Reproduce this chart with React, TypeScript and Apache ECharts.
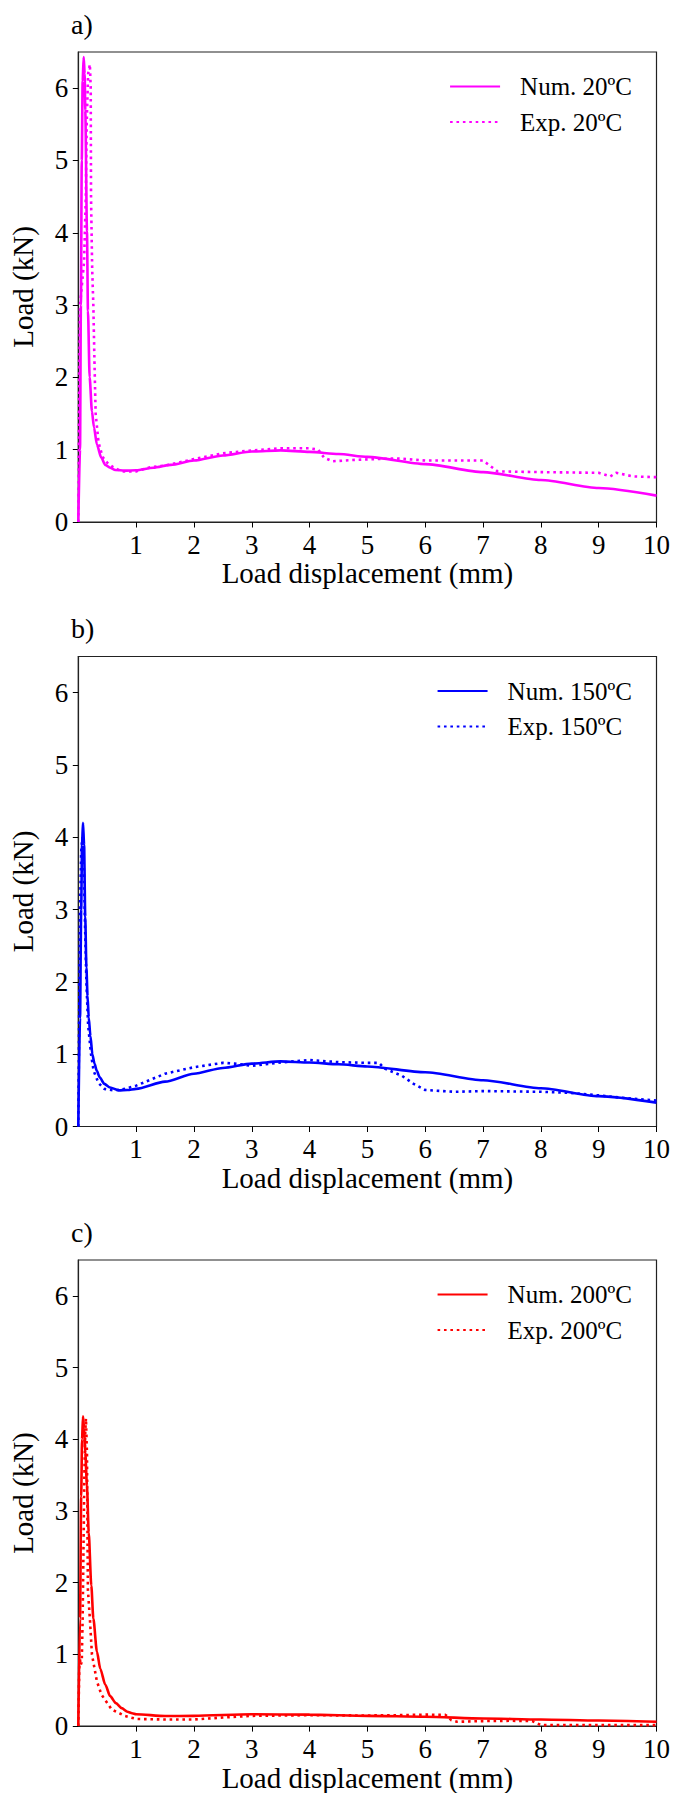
import React, { useEffect, useRef } from 'react';
import * as echarts from 'echarts';

// ---- tick values ----
const xTicks = [1, 2, 3, 4, 5, 6, 7, 8, 9, 10];
const yTicks = [0, 1, 2, 3, 4, 5, 6];

// ---- panel texts ----
const panelTitles = ['a)', 'b)', 'c)'];
const numNames = ['Num. 20ºC', 'Num. 150ºC', 'Num. 200ºC'];
const expNames = ['Exp. 20ºC', 'Exp. 150ºC', 'Exp. 200ºC'];
const xName = 'Load displacement (mm)';
const yName = 'Load (kN)';

// ---- a) 20ºC ----
const numA_x = [0, 0.03, 0.045, 0.06, 0.075, 0.093, 0.11, 0.121, 0.15, 0.167, 0.196, 0.236, 0.271, 0.322, 0.397, 0.466, 0.55, 0.64, 0.8, 1.0, 1.3, 1.6, 2.0, 2.5, 3.0, 3.5, 4.0, 4.5, 5.0, 6.0, 7.0, 8.0, 9.0, 10.0];
const numA_y = [0, 1.0, 3.0, 5.0, 6.1, 6.43, 6.2, 5.69, 4.02, 2.92, 2.0, 1.53, 1.31, 1.07, 0.89, 0.79, 0.75, 0.72, 0.71, 0.715, 0.75, 0.79, 0.85, 0.92, 0.975, 0.99, 0.97, 0.94, 0.9, 0.8, 0.69, 0.58, 0.47, 0.365];
const expA_x = [0, 0.01, 0.02, 0.03, 0.1, 0.13, 0.145, 0.17, 0.2, 0.215, 0.22, 0.24, 0.26, 0.28, 0.3, 0.35, 0.42, 0.5, 0.6, 0.75, 1.0, 1.25, 1.5, 2.0, 2.5, 3.0, 3.5, 4.0, 4.15, 4.25, 4.4, 4.8, 5.5, 6.0, 7.0, 7.25, 8.0, 9.0, 9.2, 9.3, 9.6, 10.0];
const expA_y = [0, 1.0, 2.2, 3.0, 3.6, 4.5, 5.5, 6.2, 6.33, 6.0, 4.5, 3.5, 3.0, 2.2, 1.5, 1.1, 0.9, 0.82, 0.76, 0.7, 0.7, 0.76, 0.78, 0.87, 0.95, 0.99, 1.02, 1.02, 1.0, 0.89, 0.84, 0.86, 0.88, 0.85, 0.85, 0.7, 0.69, 0.68, 0.63, 0.68, 0.63, 0.62];

// ---- b) 150ºC ----
const numB_x = [0, 0.03, 0.05, 0.065, 0.081, 0.1, 0.12, 0.14, 0.16, 0.18, 0.21, 0.243, 0.28, 0.32, 0.37, 0.45, 0.55, 0.7, 0.85, 1.0, 1.5, 2.0, 2.5, 3.0, 3.5, 4.0, 4.5, 5.0, 6.0, 7.0, 8.0, 9.0, 10.0];
const numB_y = [0, 1.5, 3.0, 3.9, 4.2, 3.9, 2.9, 2.2, 1.8, 1.51, 1.25, 1.0, 0.87, 0.77, 0.68, 0.59, 0.54, 0.5, 0.505, 0.52, 0.62, 0.73, 0.81, 0.87, 0.9, 0.885, 0.86, 0.83, 0.75, 0.64, 0.53, 0.42, 0.33];
const expB_x = [0, 0.015, 0.03, 0.05, 0.07, 0.09, 0.11, 0.14, 0.17, 0.22, 0.265, 0.35, 0.45, 0.6, 0.75, 1.0, 1.5, 2.0, 2.5, 2.7, 3.0, 3.5, 4.0, 4.5, 5.0, 5.2, 5.3, 5.6, 5.8, 6.0, 6.5, 7.0, 8.0, 8.5, 9.0, 9.5, 10.0];
const expB_y = [0, 1.5, 3.0, 3.8, 4.0, 3.8, 3.0, 2.0, 1.4, 1.0, 0.77, 0.6, 0.52, 0.5, 0.51, 0.565, 0.73, 0.82, 0.88, 0.87, 0.84, 0.885, 0.92, 0.89, 0.88, 0.88, 0.8, 0.7, 0.59, 0.505, 0.48, 0.49, 0.48, 0.465, 0.43, 0.39, 0.36];

// ---- c) 200ºC ----
const numC_x = [0, 0.03, 0.05, 0.065, 0.081, 0.1, 0.121, 0.15, 0.18, 0.225, 0.26, 0.322, 0.38, 0.466, 0.55, 0.65, 0.75, 0.85, 0.93, 1.0, 1.5, 2.0, 3.0, 4.0, 5.0, 6.0, 7.0, 8.0, 9.0, 10.0];
const numC_y = [0, 1.5, 3.2, 4.0, 4.32, 4.15, 3.81, 3.35, 2.7, 1.96, 1.5, 1.04, 0.8, 0.58, 0.42, 0.32, 0.25, 0.2, 0.18, 0.165, 0.14, 0.143, 0.165, 0.16, 0.143, 0.13, 0.106, 0.092, 0.078, 0.06];
const expC_x = [0, 0.01, 0.02, 0.04, 0.06, 0.075, 0.09, 0.105, 0.12, 0.132, 0.15, 0.158, 0.166, 0.2, 0.236, 0.32, 0.4, 0.58, 0.81, 1.0, 1.5, 2.0, 2.5, 3.0, 4.0, 5.0, 5.5, 6.0, 6.35, 6.45, 6.55, 7.0, 7.5, 7.85, 8.0, 9.0, 10.0];
const expC_y = [0, 0.5, 1.0, 0.85, 0.9, 1.5, 2.5, 3.5, 4.1, 4.29, 3.8, 2.8, 1.9, 1.5, 1.0, 0.63, 0.44, 0.23, 0.14, 0.1, 0.092, 0.092, 0.12, 0.143, 0.152, 0.148, 0.152, 0.16, 0.157, 0.083, 0.06, 0.07, 0.074, 0.07, 0.014, 0.014, 0.014];

const colors = ['#ff00ff', '#0000ff', '#ff0000'];

const zip = (xs: number[], ys: number[]) => xs.map((x, i) => [x, ys[i]]);

const numData = [zip(numA_x, numA_y), zip(numB_x, numB_y), zip(numC_x, numC_y)];
const expData = [zip(expA_x, expA_y), zip(expB_x, expB_y), zip(expC_x, expC_y)];

const FONT = 'Liberation Serif';
const GRID_LEFT = 78.3;
const GRID_W = 579.7;
const GRID_H = 470;
const GRID_TOPS = [52, 656.5, 1260];

export default function App() {
  const ref = useRef<HTMLDivElement>(null);
  useEffect(() => {
    if (!ref.current) return;
    const chart = echarts.init(ref.current, null, { renderer: 'svg' });
    const grids: any[] = [];
    const xAxes: any[] = [];
    const yAxes: any[] = [];
    const series: any[] = [];
    const legends: any[] = [];
    const titles: any[] = [];
    for (let i = 0; i < 3; i++) {
      const top = GRID_TOPS[i];
      grids.push({
        left: GRID_LEFT,
        top,
        width: GRID_W,
        height: GRID_H,
        show: true,
        borderColor: '#222',
        borderWidth: 1.2,
        backgroundColor: 'transparent',
      });
      xAxes.push({
        type: 'value',
        gridIndex: i,
        min: 0,
        max: 10,
        interval: 1,
        name: xName,
        nameLocation: 'middle',
        nameGap: 32,
        nameTextStyle: { fontFamily: FONT, fontSize: 29, color: '#000' },
        axisLine: { show: true, onZero: false, lineStyle: { color: '#222', width: 1.2 } },
        axisTick: { show: true, length: 5.5, inside: false, lineStyle: { color: '#000', width: 1 }, customValues: xTicks },
        axisLabel: { fontFamily: FONT, fontSize: 27, color: '#000', margin: 9, customValues: xTicks },
        splitLine: { show: false },
      });
      yAxes.push({
        type: 'value',
        gridIndex: i,
        min: 0,
        max: 6.5,
        interval: 1,
        name: yName,
        nameLocation: 'middle',
        nameGap: 41,
        nameTextStyle: { fontFamily: FONT, fontSize: 29, color: '#000' },
        axisLine: { show: true, onZero: false, lineStyle: { color: '#222', width: 1.2 } },
        axisTick: { show: true, length: 5.5, inside: false, lineStyle: { color: '#000', width: 1 }, customValues: yTicks },
        axisLabel: { fontFamily: FONT, fontSize: 27, color: '#000', margin: 10, customValues: yTicks },
        splitLine: { show: false },
      });
      series.push({
        type: 'line',
        name: numNames[i],
        xAxisIndex: i,
        yAxisIndex: i,
        data: numData[i],
        symbol: 'none',
        showSymbol: false,
        smooth: 0.25,
        smoothMonotone: 'x',
        lineStyle: { color: colors[i], width: 2.6, type: 'solid' },
        itemStyle: { color: colors[i] },
        silent: true,
      });
      series.push({
        type: 'line',
        name: expNames[i],
        xAxisIndex: i,
        yAxisIndex: i,
        data: expData[i],
        symbol: 'none',
        showSymbol: false,
        lineStyle: { color: colors[i], width: 2.6, type: [2.6, 3.8], cap: 'butt' },
        itemStyle: { color: colors[i] },
        silent: true,
      });
      legends.push({
        data: [numNames[i], expNames[i]],
        orient: 'vertical',
        right: 36,
        top: top + 17,
        itemWidth: 50,
        itemHeight: 14,
        itemGap: 10.6,
        selectedMode: false,
        itemStyle: { opacity: 0 },
        textStyle: { fontFamily: FONT, fontSize: 25, color: '#000', padding: [0, 0, 0, 15] },
      });
      titles.push({
        text: panelTitles[i],
        left: 66,
        top: top - 47,
        textStyle: { fontFamily: FONT, fontSize: 28, fontWeight: 'normal', color: '#000' },
      });
    }
    chart.setOption({
      animation: false,
      backgroundColor: '#fff',
      title: titles,
      grid: grids,
      xAxis: xAxes,
      yAxis: yAxes,
      legend: legends,
      series,
    });
    return () => chart.dispose();
  }, []);
  return (
    <div
      ref={ref}
      style={{ position: 'absolute', left: 0, top: 0, width: 673, height: 1793, background: '#fff' }}
    />
  );
}
